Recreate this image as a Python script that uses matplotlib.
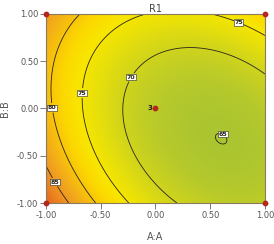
import numpy as np
import matplotlib
matplotlib.use("Agg")
import matplotlib.pyplot as plt
from matplotlib.colors import LinearSegmentedColormap

# quadratic response-surface model for R1 (coded factors A, B)
coef_names = ["Intercept", "A", "B", "AB", "A^2", "B^2"]
coef_values = [67.30, -6.98, 1.40, 4.06, 6.90, 6.00]

levels = [65, 70, 75, 80, 85]
label_pos = [(0.598, -0.31), (-0.242, 0.344), (-0.68, 0.164), (0.772, 0.947),
             (-0.955, 0.005), (-0.918, -0.778)]

# design points
design_a = [-1, 1, -1, 1, 0]
design_b = [-1, -1, 1, 1, 0]
center_reps = 3

ticks = [-1.0, -0.5, 0.0, 0.5, 1.0]
tick_labels = ["-1.00", "-0.50", "0.00", "0.50", "1.00"]

b0, bA, bB, bAB, bAA, bBB = coef_values
a = np.linspace(-1, 1, 300)
b = np.linspace(-1, 1, 300)
A, B = np.meshgrid(a, b)
R = b0 + bA * A + bB * B + bAB * A * B + bAA * A ** 2 + bBB * B ** 2

stops = [(64.5, "#a8c432"), (67, "#b8ca2a"), (70, "#d0d41c"), (73, "#e8e00a"),
         (75.5, "#f8e600"), (78, "#fcd800"), (81, "#f6bc10"), (84, "#f0a020"),
         (87, "#ec8420"), (90, "#e46420")]
lo, hi = stops[0][0], stops[-1][0]
cmap = LinearSegmentedColormap.from_list(
    "de", [((v - lo) / (hi - lo), c) for v, c in stops])

fig = plt.figure(figsize=(2.74, 2.44), dpi=100)
ax = fig.add_axes([0.168, 0.168, 0.799, 0.775])
ax.imshow(R, extent=[-1, 1, -1, 1], origin="lower", cmap=cmap,
          vmin=lo, vmax=hi, aspect="auto", interpolation="bilinear")
cs = ax.contour(A, B, R, levels=levels, colors="#2a2418", linewidths=0.6)
lbls = ax.clabel(cs, fmt="%d", fontsize=4.5, inline=True, inline_spacing=1,
                 manual=label_pos)
for t in lbls:
    t.set_rotation(0)
    t.set_bbox(dict(facecolor="white", edgecolor="#222222", pad=0.4, lw=0.4))
    t.set_fontweight("bold")

ax.scatter(design_a, design_b, s=10, color="#b5261c", zorder=5, clip_on=False)
ax.text(-0.03, 0.0, str(center_reps), fontsize=5, ha="right", va="center",
        color="#222222", fontweight="bold")

ax.set_xlim(-1, 1)
ax.set_ylim(-1, 1)
ax.set_xticks(ticks)
ax.set_xticklabels(tick_labels)
ax.set_yticks(ticks)
ax.set_yticklabels(tick_labels)
ax.tick_params(direction="out", length=4, width=0.6, colors="#666666",
               labelsize=6, labelcolor="#555555", pad=1.5)
for s in ax.spines.values():
    s.set_color("#8a7a60")
    s.set_linewidth(0.8)

ax.set_title("R1", fontsize=7, color="#444444", pad=1.5)
ax.set_xlabel("A:A", fontsize=7, color="#555555", labelpad=9)
ax.set_ylabel("B:B", fontsize=7, color="#555555", labelpad=5)

fig.savefig("out.png", dpi=100)
